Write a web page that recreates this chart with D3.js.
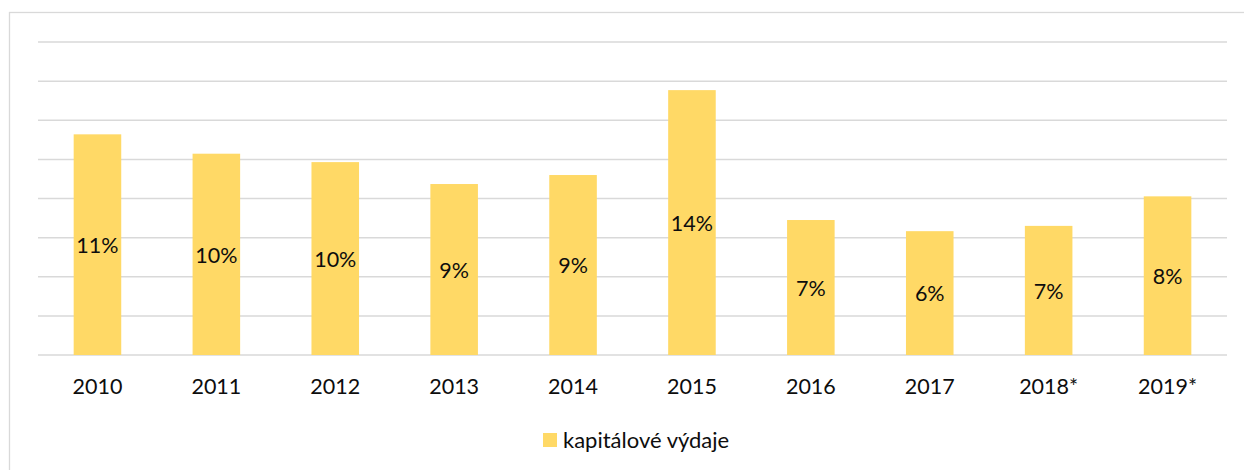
<!DOCTYPE html>
<html>
<head>
<meta charset="utf-8">
<script src="https://cdn.jsdelivr.net/npm/d3@7"></script>
<style>
  body { margin: 0; background: #fff; }
  svg { display: block; font-family: Lato, "Open Sans", sans-serif; }
</style>
</head>
<body>
<svg id="chart"></svg>
<script>
// data
const years = ['2010', '2011', '2012', '2013', '2014', '2015', '2016', '2017', '2018*', '2019*']
const capex = [11.28, 10.29, 9.86, 8.74, 9.2, 13.54, 6.9, 6.33, 6.6, 8.11]
const capexLabels = ['11%', '10%', '10%', '9%', '9%', '14%', '7%', '6%', '7%', '8%']
const yTicks = [0, 2, 4, 6, 8, 10, 12, 14, 16]
const seriesName = 'kapitálové výdaje'

const w = 1244, h = 470
const m = {t: 42, r: 17, b: 115, l: 38}
const barColor = '#ffd966'
const textColor = '#0d0d0d'

let svg = d3.select('#chart').attr('width', w).attr('height', h)

// outer chart frame (runs off right and bottom edges)
svg.append('rect')
    .attr('x', 9.5).attr('y', 12.5)
    .attr('width', w).attr('height', h)
    .attr('fill', 'none')
    .attr('stroke', '#d9d9d9')
    .attr('stroke-width', 1.3)

let x = d3.scaleBand()
    .domain(years)
    .range([m.l, w - m.r])
    .paddingInner(0.6)
    .paddingOuter(0.3)

let y = d3.scaleLinear()
    .domain([0, 16])
    .range([h - m.b, m.t])

// gridlines
svg.append('g')
    .selectAll('line')
    .data(yTicks)
    .join('line')
    .attr('x1', m.l).attr('x2', w - m.r)
    .attr('y1', d => y(d)).attr('y2', d => y(d))
    .attr('stroke', '#d9d9d9')
    .attr('stroke-width', 1.5)

// bars
svg.append('g')
    .selectAll('rect')
    .data(capex)
    .join('rect')
    .attr('x', (d, i) => x(years[i]))
    .attr('y', d => y(d))
    .attr('width', x.bandwidth())
    .attr('height', d => y(0) - y(d))
    .attr('fill', barColor)

// value labels in the middle of each bar
svg.append('g')
    .selectAll('text')
    .data(capex)
    .join('text')
    .attr('x', (d, i) => x(years[i]) + x.bandwidth() / 2)
    .attr('y', d => (y(d) + y(0)) / 2)
    .attr('dy', '0.38em')
    .attr('text-anchor', 'middle')
    .attr('font-size', 21.5)
    .attr('fill', textColor)
    .text((d, i) => capexLabels[i])

// x axis labels
let xAxis = svg.append('g')
    .attr('transform', `translate(0, ${y(0)})`)
    .call(d3.axisBottom(x).tickSize(0).tickPadding(24))
xAxis.select('.domain').remove()
xAxis.selectAll('text')
    .attr('font-size', 21.5)
    .attr('font-family', 'Lato, "Open Sans", sans-serif')
    .attr('fill', textColor)

// legend
let legend = svg.append('g').attr('transform', 'translate(543, 433)')
legend.append('rect')
    .attr('width', 14).attr('height', 14)
    .attr('fill', barColor)
legend.append('text')
    .attr('x', 20).attr('y', 7)
    .attr('dy', '0.38em')
    .attr('font-size', 22)
    .attr('fill', textColor)
    .text(seriesName)
</script>
</body>
</html>
